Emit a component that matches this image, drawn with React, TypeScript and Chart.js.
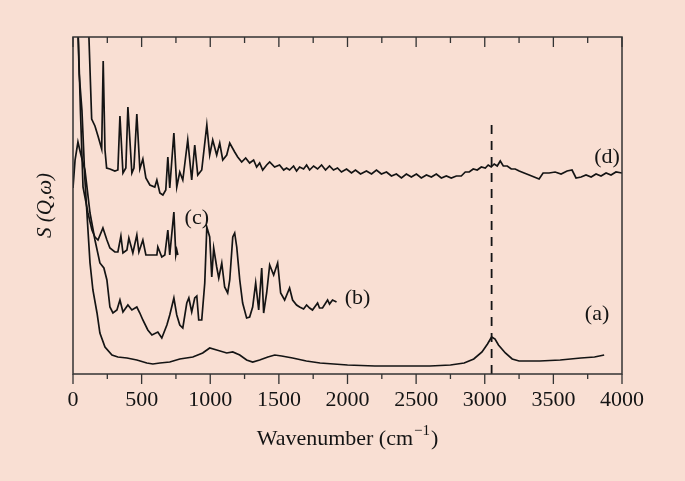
import React, { useEffect, useRef } from 'react';
import { Chart, registerables } from 'chart.js';

Chart.register(...registerables);

// ---------- data (wavenumber in cm^-1, intensity in arbitrary units) ----------
const xTickValues = [0, 500, 1000, 1500, 2000, 2500, 3000, 3500, 4000];
const minorTickStep = 250;

const seriesA: [number, number][] = [
  [25, 400], [45, 300], [65, 264], [87, 194], [109, 144], [124, 111], [145, 84], [175, 61],
  [196, 41], [233, 27], [284, 19], [327, 17], [393, 16], [465, 14], [538, 11], [582, 10],
  [633, 11], [705, 12], [778, 15], [873, 17], [945, 21], [996, 26], [1047, 24], [1120, 21],
  [1164, 22], [1215, 19], [1265, 14], [1309, 12], [1360, 14], [1420, 17], [1470, 19],
  [1520, 18], [1600, 16], [1700, 13], [1800, 11], [1900, 10], [2000, 9], [2200, 8],
  [2400, 8], [2600, 8], [2750, 9], [2850, 11], [2920, 15], [2980, 22], [3020, 30],
  [3050, 37], [3075, 35], [3100, 29], [3150, 21], [3200, 15], [3250, 13], [3400, 13],
  [3550, 14], [3700, 16], [3800, 17], [3870, 19],
];

const seriesB: [number, number][] = [
  [0, 186], [15, 214], [36, 232], [58, 219], [87, 204], [124, 161], [160, 134], [196, 111],
  [225, 106], [247, 94], [269, 67], [291, 61], [320, 64], [342, 74], [364, 62], [400, 69],
  [429, 64], [465, 67], [487, 61], [509, 54], [545, 44], [575, 39], [618, 42], [647, 36],
  [684, 49], [705, 59], [735, 76], [756, 59], [778, 49], [800, 46], [829, 71], [844, 76],
  [865, 62], [887, 76], [902, 78], [916, 54], [938, 54], [960, 91], [975, 147], [996, 137],
  [1011, 97], [1025, 126], [1047, 107], [1062, 96], [1084, 111], [1105, 87], [1127, 81],
  [1142, 94], [1164, 137], [1178, 141], [1193, 127], [1215, 94], [1236, 71], [1265, 56],
  [1287, 57], [1309, 67], [1331, 91], [1353, 64], [1375, 106], [1389, 61], [1411, 81],
  [1433, 109], [1462, 99], [1491, 111], [1513, 81], [1542, 74], [1578, 86], [1600, 74],
  [1629, 69], [1651, 67], [1680, 65], [1702, 69], [1724, 66], [1745, 64], [1782, 71],
  [1796, 66], [1818, 66], [1855, 74], [1869, 70], [1891, 74], [1920, 72],
];

const seriesC: [number, number][] = [
  [20, 400], [40, 330], [55, 260], [73, 187], [109, 161], [138, 144], [160, 137], [182, 134],
  [218, 146], [247, 134], [269, 126], [305, 122], [327, 122], [349, 138], [364, 121],
  [393, 124], [407, 136], [436, 121], [465, 139], [480, 122], [509, 134], [531, 119],
  [575, 119], [611, 119], [618, 127], [647, 117], [669, 119], [691, 144], [705, 119],
  [735, 162], [749, 119], [756, 124], [764, 119],
];

const seriesD: [number, number][] = [
  [90, 420], [116, 337], [136, 255], [160, 248], [182, 238], [209, 225], [220, 313],
  [233, 224], [245, 206], [269, 205], [305, 203], [327, 204], [342, 258], [364, 201],
  [385, 206], [400, 267], [429, 201], [444, 206], [465, 260], [487, 205], [509, 215],
  [531, 196], [560, 189], [596, 187], [611, 194], [633, 181], [655, 179], [676, 184],
  [691, 217], [705, 186], [735, 241], [756, 187], [778, 202], [800, 194], [836, 234],
  [865, 194], [887, 229], [909, 199], [938, 204], [975, 249], [996, 219], [1018, 234],
  [1047, 219], [1069, 231], [1091, 214], [1120, 219], [1142, 231], [1178, 222], [1200, 217],
  [1229, 212], [1258, 216], [1287, 211], [1316, 214], [1338, 207], [1360, 211], [1382, 204],
  [1411, 209], [1433, 212], [1469, 207], [1505, 209], [1535, 204], [1556, 206], [1578, 204],
  [1607, 208], [1629, 203], [1651, 207], [1680, 205], [1702, 209], [1724, 204], [1753, 208],
  [1782, 205], [1811, 209], [1840, 204], [1869, 208], [1898, 204], [1927, 206], [1956, 202],
  [1993, 205], [2029, 201], [2058, 204], [2095, 200], [2138, 203], [2175, 200], [2211, 204],
  [2247, 200], [2284, 202], [2320, 198], [2356, 200], [2393, 196], [2429, 200], [2465, 197],
  [2502, 200], [2538, 196], [2575, 199], [2611, 197], [2647, 200], [2684, 196], [2720, 198],
  [2756, 196], [2793, 198], [2829, 198], [2858, 202], [2887, 202], [2916, 205], [2945, 204],
  [2975, 207], [3004, 206], [3025, 209], [3047, 207], [3069, 210], [3091, 208], [3113, 213],
  [3135, 208], [3164, 208], [3193, 205], [3222, 205], [3251, 203], [3287, 201], [3324, 199],
  [3360, 197], [3396, 195], [3425, 201], [3469, 201], [3513, 202], [3556, 200], [3600, 203],
  [3636, 204], [3665, 196], [3702, 197], [3738, 199], [3775, 197], [3811, 200], [3847, 198],
  [3884, 201], [3920, 199], [3956, 202], [4000, 201],
];

const markerLine: [number, number][] = [[3050, 249], [3050, 0]];

const curveLabels = [
  { text: '(a)', w: 3818, v: 60 },
  { text: '(b)', w: 2073, v: 76 },
  { text: '(c)', w: 902, v: 156 },
  { text: '(d)', w: 3891, v: 217 },
];

// ---------- styles ----------
const BG = '#f9dfd3';
const INK = '#141414';
const AXIS = '#333333';
const SERIF = '"Liberation Serif", "DejaVu Serif", serif';

const toPts = (arr: [number, number][]) => arr.map(([x, y]) => ({ x, y }));

const framePlugin = {
  id: 'frameAndLabels',
  beforeDraw(chart: any) {
    const { ctx, width, height } = chart;
    ctx.save();
    ctx.fillStyle = BG;
    ctx.fillRect(0, 0, width, height);
    ctx.restore();
  },
  afterDatasetsDraw(chart: any) {
    const { ctx, chartArea, scales } = chart;
    const { left, right, top, bottom } = chartArea;
    const x = scales.x;
    const y = scales.y;
    ctx.save();
    ctx.strokeStyle = AXIS;
    ctx.lineWidth = 1.5;
    ctx.strokeRect(left, top, right - left, bottom - top);
    ctx.lineWidth = 1.3;
    const max = xTickValues[xTickValues.length - 1];
    for (let w = 0; w <= max; w += minorTickStep) {
      const px = x.getPixelForValue(w);
      const major = xTickValues.includes(w);
      const lenTop = major ? 10 : 6;
      const lenBot = major ? 10 : 5;
      ctx.beginPath();
      ctx.moveTo(px, top);
      ctx.lineTo(px, top + lenTop);
      ctx.moveTo(px, bottom);
      ctx.lineTo(px, bottom + lenBot);
      ctx.stroke();
    }

    // curve labels
    ctx.fillStyle = INK;
    ctx.font = `22px ${SERIF}`;
    ctx.textAlign = 'center';
    ctx.textBaseline = 'middle';
    for (const l of curveLabels) {
      ctx.fillText(l.text, x.getPixelForValue(l.w), y.getPixelForValue(l.v));
    }

    // x-axis title with superscript
    const cx = (left + right) / 2;
    const base = 445;
    const mainFont = `22px ${SERIF}`;
    const supFont = `15px ${SERIF}`;
    const p1 = 'Wavenumber (cm';
    const sup = '\u22121';
    const p3 = ')';
    ctx.font = mainFont;
    const w1 = ctx.measureText(p1).width;
    const w3 = ctx.measureText(p3).width;
    ctx.font = supFont;
    const w2 = ctx.measureText(sup).width;
    const total = w1 + w2 + w3 + 2;
    let sx = cx - total / 2;
    ctx.textAlign = 'left';
    ctx.textBaseline = 'alphabetic';
    ctx.font = mainFont;
    ctx.fillText(p1, sx, base);
    sx += w1 + 1;
    ctx.font = supFont;
    ctx.fillText(sup, sx, base - 10);
    sx += w2 + 1;
    ctx.font = mainFont;
    ctx.fillText(p3, sx, base);
    ctx.restore();
  },
};

export default function App() {
  const ref = useRef<HTMLCanvasElement | null>(null);

  useEffect(() => {
    if (!ref.current) return;
    const lineStyle = {
      borderColor: INK,
      borderWidth: 1.7,
      pointRadius: 0,
      tension: 0,
      fill: false,
    };
    const chart = new Chart(ref.current, {
      type: 'line',
      data: {
        datasets: [
          { ...lineStyle, label: '(a)', data: toPts(seriesA) },
          { ...lineStyle, label: '(b)', data: toPts(seriesB) },
          { ...lineStyle, label: '(c)', data: toPts(seriesC) },
          { ...lineStyle, label: '(d)', data: toPts(seriesD) },
          {
            ...lineStyle,
            label: 'marker',
            data: toPts(markerLine),
            borderWidth: 1.8,
            borderDash: [9, 7],
          },
        ],
      },
      options: {
        responsive: false,
        animation: false,
        layout: { padding: { left: 0, right: 63, top: 37, bottom: 0 } },
        plugins: {
          legend: { display: false },
          tooltip: { enabled: false },
        },
        scales: {
          x: {
            type: 'linear',
            min: 0,
            max: 4000,
            afterBuildTicks: (s: any) => {
              s.ticks = xTickValues.map((v) => ({ value: v }));
            },
            afterFit: (s: any) => {
              s.height = 107;
            },
            ticks: {
              color: INK,
              font: { family: SERIF, size: 22 },
              padding: 13,
              maxRotation: 0,
              autoSkip: false,
              callback: (v: any) => String(v),
            },
            grid: { display: true, drawOnChartArea: false, drawTicks: false, color: 'rgba(0,0,0,0)' },
            border: { display: false },
          },
          y: {
            type: 'linear',
            min: 0,
            max: 337,
            afterFit: (s: any) => {
              s.width = 73;
            },
            ticks: { display: false },
            grid: { display: false },
            border: { display: false },
            title: {
              display: true,
              text: 'S (Q,\u03c9)',
              color: INK,
              font: { family: SERIF, size: 21, style: 'italic' },
              padding: { top: 33, bottom: 0 },
            },
          },
        },
      },
      plugins: [framePlugin],
    });
    return () => chart.destroy();
  }, []);

  return (
    <div
      style={{
        position: 'absolute',
        left: 0,
        top: 0,
        width: 685,
        height: 481,
        background: BG,
        overflow: 'hidden',
      }}
    >
      <canvas ref={ref} width={685} height={481} style={{ display: 'block' }} />
    </div>
  );
}
